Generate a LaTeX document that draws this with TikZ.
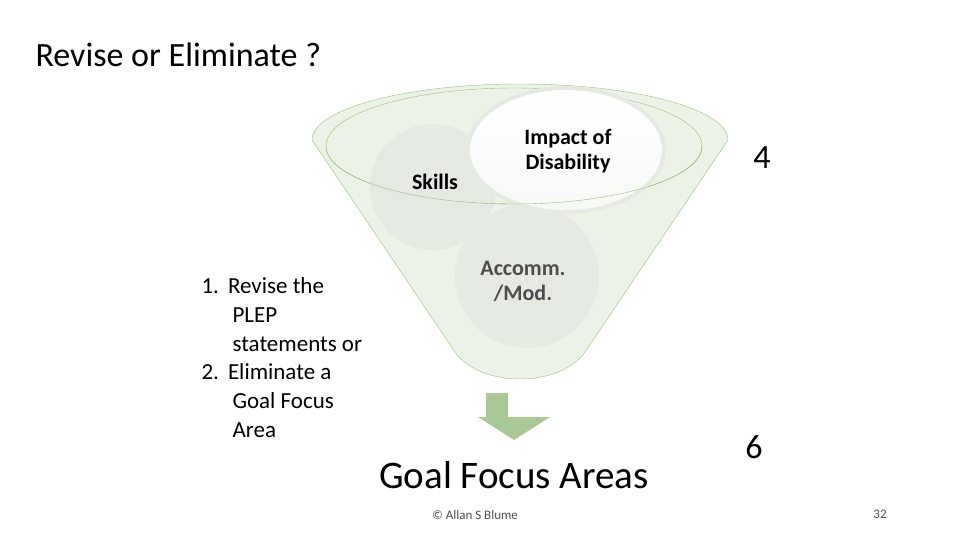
\documentclass[tikz,border=0pt]{standalone}
\usepackage{fontspec}
\setmainfont{Carlito}
\usetikzlibrary{calc}
\definecolor{funnelfill}{RGB}{236,243,230}
\definecolor{funneldraw}{RGB}{150,190,120}
\definecolor{ballfill}{RGB}{228,233,226}
\definecolor{arrowgreen}{RGB}{170,200,150}
\tikzset{ball/.style={fill=ballfill,draw=none}, label/.style={font=\fontsize{22}{25}\selectfont\bfseries, align=center}}

\begin{document}
\begin{tikzpicture}[x=1pt,y=-1pt]
\useasboundingbox (0,0) rectangle (960,540);
% funnel
\draw[funneldraw, fill=funnelfill] (312,140) -- (455,352) .. controls (480,388) and (560,388) .. (585,352) -- (728,140) arc[start angle=0,end angle=-180,x radius=208,y radius=56];
\draw[funneldraw] (514,146) ellipse[x radius=188,y radius=58];
\fill[ball] (433,187) circle[radius=63];
\fill[ball] (527,276) circle[radius=72];
\fill[ball] (566,150) ellipse[x radius=100,y radius=64];
\shade[top color=white,bottom color=white!70!ballfill] (566,150) ellipse[x radius=96,y radius=60];
\draw[funneldraw] (326,146) arc[start angle=180,end angle=0,x radius=188,y radius=58];
\node[label] (skills) at (435,182) {Skills};
\node[label] (impact) at (568,151) {Impact of\\Disability};
\node[label,text=black!70] (accomm) at (523,281) {Accomm.\\/Mod.};
% arrow
\fill[arrowgreen] (486,393) -- (508,393) -- (508,417) -- (550,417) -- (514,440) -- (478,417) -- (486,417) -- cycle;
\node[font=\fontsize{39}{44}\selectfont] (goal) at (514,475) {Goal Focus Areas};
% text
\node[anchor=west,font=\fontsize{34}{38}\selectfont] (title) at (32,55) {Revise or Eliminate ?};
\node[anchor=north west,font=\fontsize{23}{28.8}\selectfont,align=left] (list) at (198,274)
  {1.\ \,Revise the\\\hspace*{31pt}PLEP\\\hspace*{31pt}statements or\\2.\ \,Eliminate a\\\hspace*{31pt}Goal Focus\\\hspace*{31pt}Area};
\node[font=\fontsize{34}{38}\selectfont] (four) at (762,158) {4};
\node[font=\fontsize{34}{38}\selectfont] (six) at (754,447) {6};
\node[font=\fontsize{13}{15}\selectfont,text=black!70] (copy) at (475,515) {© Allan S Blume};
\node[font=\fontsize{13}{15}\selectfont,text=black!70] (page) at (880,514) {32};
\end{tikzpicture}
\end{document}
